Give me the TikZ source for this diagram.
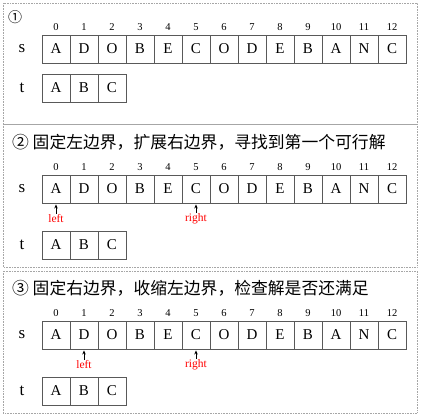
\documentclass[tikz,border=0pt]{standalone}
\usepackage{fontspec}
\setmainfont{Liberation Serif}
\newfontfamily\cjk{Noto Sans CJK SC}
\usetikzlibrary{arrows.meta}
\begin{document}
\begin{tikzpicture}[x=1pt,y=-1pt,
    cell/.style={draw=black!65, line width=0.9pt, minimum width=28pt, minimum height=28pt, inner sep=0pt, font=\fontsize{15}{15}\selectfont},
    idx/.style={inner sep=0pt, font=\fontsize{10.5}{10.5}\selectfont},
    rowname/.style={inner sep=0pt, font=\fontsize{17}{17}\selectfont},
    ptr/.style={text=red, inner sep=1pt, font=\fontsize{11.5}{11.5}\selectfont},
    ptrarrow/.style={-{Stealth[length=4pt,width=3.5pt]}, line width=0.7pt, shorten >=1pt},
    title/.style={anchor=west, inner sep=0pt, font=\cjk\fontsize{16.8}{16.8}\selectfont},
    panel/.style={draw=black!35, densely dotted, line width=0.6pt}]
    \useasboundingbox (0,0) rectangle (421,416);

    % Panels
    \draw[panel] (3,3) rectangle (417,124);
    \draw[panel] (3,124) rectangle (417,267);
    \draw[panel] (3,271) rectangle (417,413);

    % Titles
    \node[title, font=\cjk\fontsize{14}{14}\selectfont] (title1) at (8,17) {①};
    \node[title] (title2) at (12,142) {② 固定左边界，扩展右边界，寻找到第一个可行解};
    \node[title] (title3) at (12,288) {③ 固定右边界，收缩左边界，检查解是否还满足};

    % Strings s and t
    \foreach \p/\ys/\yt in {1/49/88, 2/189/245, 3/335/391} {
        \node[rowname] (sname\p) at (22,\ys) {s};
        \node[rowname] (tname\p) at (22,\yt) {t};
        \foreach [count=\i from 0] \c in {A,D,O,B,E,C,O,D,E,B,A,N,C} {
            \node[cell] (s\p-\i) at (56+28*\i,\ys) {\c};
            \node[idx] (i\p-\i) at (56+28*\i,\ys-22) {\i};
        }
        \foreach [count=\i from 0] \c in {A,B,C} {
            \node[cell] (t\p-\i) at (56+28*\i,\yt) {\c};
        }
    }

    % Pointers
    \node[ptr] (left2) at (56,219) {left};
    \node[ptr] (right2) at (196,219) {right};
    \draw[ptrarrow] (left2.north) -- (s2-0.south);
    \draw[ptrarrow] (right2.north) -- (s2-5.south);

    \node[ptr] (left3) at (84,365) {left};
    \node[ptr] (right3) at (196,365) {right};
    \draw[ptrarrow] (left3.north) -- (s3-1.south);
    \draw[ptrarrow] (right3.north) -- (s3-5.south);
\end{tikzpicture}
\end{document}
